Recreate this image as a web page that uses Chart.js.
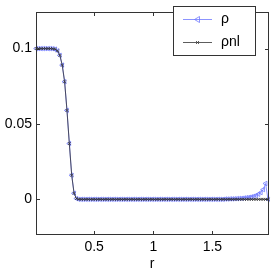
<!DOCTYPE html>
<html>
<head>
<meta charset="utf-8">
<script src="https://cdn.jsdelivr.net/npm/chart.js@4/dist/chart.umd.min.js"></script>
<style>
  html, body { margin: 0; padding: 0; background: #fff; }
  #wrap { width: 273px; height: 273px; }
</style>
</head>
<body>
<div id="wrap"><canvas id="rhoChart"></canvas></div>
<script>
// radial grid (dr = 0.02)
const rValues = [
    0.01, 0.03, 0.05, 0.07, 0.09, 0.11, 0.13, 0.15, 0.17, 0.19,
    0.21, 0.23, 0.25, 0.27, 0.29, 0.31, 0.33, 0.35, 0.37, 0.39,
    0.41, 0.43, 0.45, 0.47, 0.49, 0.51, 0.53, 0.55, 0.57, 0.59,
    0.61, 0.63, 0.65, 0.67, 0.69, 0.71, 0.73, 0.75, 0.77, 0.79,
    0.81, 0.83, 0.85, 0.87, 0.89, 0.91, 0.93, 0.95, 0.97, 0.99,
    1.01, 1.03, 1.05, 1.07, 1.09, 1.11, 1.13, 1.15, 1.17, 1.19,
    1.21, 1.23, 1.25, 1.27, 1.29, 1.31, 1.33, 1.35, 1.37, 1.39,
    1.41, 1.43, 1.45, 1.47, 1.49, 1.51, 1.53, 1.55, 1.57, 1.59,
    1.61, 1.63, 1.65, 1.67, 1.69, 1.71, 1.73, 1.75, 1.77, 1.79,
    1.81, 1.83, 1.85, 1.87, 1.89, 1.91, 1.93, 1.95, 1.97
];

// rho
const rhoValues = [
    0.1, 0.1, 0.1, 0.1, 0.1, 0.1, 0.1, 0.0999, 0.0996, 0.0985,
    0.0955, 0.089, 0.078, 0.059, 0.037, 0.016, 0.004, 0.0005, 0, 0,
    0, 0, 0, 0, 0, 0, 0, 0, 0, 0,
    0, 0, 0, 0, 0, 0, 0, 0, 0, 0,
    0, 0, 0, 0, 0, 0, 0, 0, 0, 0,
    0, 0, 0, 0, 0, 0, 0, 0, 0, 0,
    0, 0, 0, 0, 0, 0, 0, 0, 0, 0,
    0, 0, 0, 0, 0, 0, 0, 0, 0, 0,
    0.0002, 0.0002, 0.0003, 0.0003, 0.0004, 0.0005, 0.0006, 0.0007, 0.0009, 0.0011,
    0.0013, 0.0016, 0.002, 0.0026, 0.0034, 0.0045, 0.0065, 0.0105, 0
];

// rho nl
const rhoNlValues = [
    0.1, 0.1, 0.1, 0.1, 0.1, 0.1, 0.1, 0.0999, 0.0996, 0.0985,
    0.0955, 0.089, 0.078, 0.059, 0.037, 0.016, 0.004, 0.0005, 0, 0,
    0, 0, 0, 0, 0, 0, 0, 0, 0, 0,
    0, 0, 0, 0, 0, 0, 0, 0, 0, 0,
    0, 0, 0, 0, 0, 0, 0, 0, 0, 0,
    0, 0, 0, 0, 0, 0, 0, 0, 0, 0,
    0, 0, 0, 0, 0, 0, 0, 0, 0, 0,
    0, 0, 0, 0, 0, 0, 0, 0, 0, 0,
    0, 0, 0, 0, 0, 0, 0, 0, 0, 0,
    0, 0, 0, 0, 0, 0, 0, 0, 0
];

const seriesNames = ['ρ', 'ρnl'];
const xTicks = [0.5, 1, 1.5];
const yTicks = [0, 0.05, 0.1];
const xLabel = 'r';

const blue = 'rgb(110,120,255)';
const dark = '#333';
const fontFamily = "'Liberation Sans', Arial, sans-serif";

function toPoints(ys) {
    return rValues.map(function (x, i) { return { x: x, y: ys[i] }; });
}

// box round the axes, inward tick marks, and the legend in the upper right
const axesDecor = {
    id: 'axesDecor',
    afterDraw: function (chart) {
        const c = chart.ctx;
        const a = chart.chartArea;
        const sx = chart.scales.x, sy = chart.scales.y;
        const L = Math.round(a.left), R = Math.round(a.right);
        const T = Math.round(a.top), B = Math.round(a.bottom);
        const len = 3;
        c.save();
        c.fillStyle = dark;
        // frame
        c.fillRect(L, T, R - L + 1, 1);
        c.fillRect(L, B, R - L + 1, 1);
        c.fillRect(L, T, 1, B - T + 1);
        c.fillRect(R, T, 1, B - T + 1);
        // ticks
        xTicks.forEach(function (v) {
            const px = Math.round(sx.getPixelForValue(v));
            c.fillRect(px, B - len, 1, len);
            c.fillRect(px, T + 1, 1, len);
        });
        yTicks.forEach(function (v) {
            const py = Math.round(sy.getPixelForValue(v));
            c.fillRect(L + 1, py, len, 1);
            c.fillRect(R - len, py, len, 1);
        });

        // legend
        const bx = 173, by = 6, bw = 82, bh = 49;
        c.fillStyle = '#fff';
        c.fillRect(bx, by, bw, bh);
        c.fillStyle = dark;
        c.fillRect(bx, by, bw + 1, 1);
        c.fillRect(bx, by + bh, bw + 1, 1);
        c.fillRect(bx, by, 1, bh + 1);
        c.fillRect(bx + bw, by, 1, bh + 1);

        const rows = [
            { y: 19, color: blue, style: 'tri' },
            { y: 42, color: dark, style: 'x' }
        ];
        rows.forEach(function (row, i) {
            const my = row.y + 0.5, mx = 197.5;
            c.strokeStyle = row.color;
            c.lineWidth = 0.8;
            c.beginPath();
            c.moveTo(183, my); c.lineTo(212, my);
            c.stroke();
            c.beginPath();
            if (row.style === 'tri') {
                c.moveTo(mx - 3, my); c.lineTo(mx + 2, my - 3); c.lineTo(mx + 2, my + 3); c.closePath();
            } else {
                c.moveTo(mx - 1.5, my - 1.5); c.lineTo(mx + 1.5, my + 1.5);
                c.moveTo(mx - 1.5, my + 1.5); c.lineTo(mx + 1.5, my - 1.5);
            }
            c.stroke();
            c.fillStyle = '#000';
            c.font = '14px ' + fontFamily;
            c.textBaseline = 'middle';
            c.textAlign = 'left';
            c.fillText(seriesNames[i], 221, row.y);
        });
        c.restore();
    }
};

new Chart(document.getElementById('rhoChart'), {
    type: 'line',
    data: {
        datasets: [{
            label: seriesNames[0],
            data: toPoints(rhoValues),
            borderColor: blue,
            backgroundColor: 'rgba(0,0,0,0)',
            borderWidth: 0.8,
            pointStyle: 'triangle',
            rotation: -90,
            pointRadius: 2.6,
            pointBorderWidth: 0.8,
            pointBorderColor: blue,
            tension: 0,
            clip: false,
            order: 2
        }, {
            label: seriesNames[1],
            data: toPoints(rhoNlValues),
            borderColor: dark,
            backgroundColor: 'rgba(0,0,0,0)',
            borderWidth: 0.8,
            pointStyle: 'crossRot',
            pointRadius: 2,
            pointBorderWidth: 0.8,
            pointBorderColor: dark,
            tension: 0,
            clip: false,
            order: 1
        }]
    },
    options: {
        responsive: true,
        maintainAspectRatio: false,
        animation: false,
        events: [],
        layout: { padding: { top: 2, right: 4, left: 0, bottom: 0 } },
        plugins: {
            legend: { display: false },
            tooltip: { enabled: false }
        },
        scales: {
            x: {
                type: 'linear',
                min: 0.008,
                max: 1.972,
                grid: { display: false, drawTicks: false },
                border: { display: false },
                afterBuildTicks: function (s) { s.ticks = xTicks.map(function (v) { return { value: v }; }); },
                afterFit: function (s) { s.height = 39; },
                ticks: {
                    padding: 5,
                    color: '#000',
                    maxRotation: 0,
                    font: { family: fontFamily, size: 14 },
                    callback: function (v) { return String(v); }
                },
                title: {
                    display: true,
                    text: xLabel,
                    color: '#000',
                    padding: { top: 0, bottom: 0 },
                    font: { family: fontFamily, size: 14 }
                }
            },
            y: {
                type: 'linear',
                min: -0.023,
                max: 0.124,
                grid: { display: false, drawTicks: false },
                border: { display: false },
                afterBuildTicks: function (s) { s.ticks = yTicks.map(function (v) { return { value: v }; }); },
                afterFit: function (s) { s.width = 36; },
                ticks: {
                    padding: 4,
                    color: '#000',
                    font: { family: fontFamily, size: 14 },
                    callback: function (v) { return String(v); }
                }
            }
        }
    },
    plugins: [axesDecor]
});
</script>
</body>
</html>
